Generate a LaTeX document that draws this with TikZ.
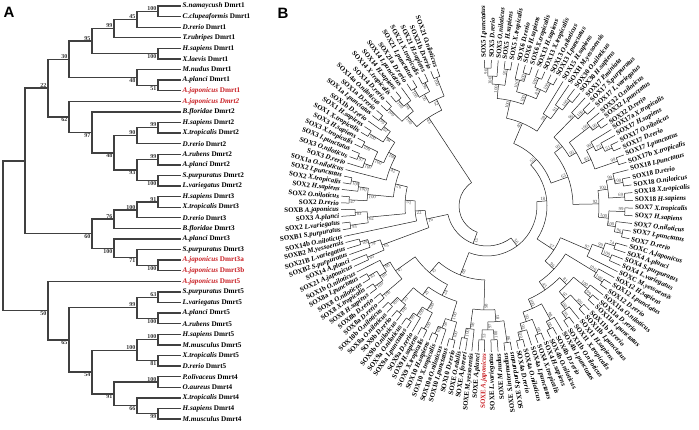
\documentclass[tikz,border=0pt]{standalone}
\usepackage{fontspec}
\setmainfont{Liberation Serif}
\newfontfamily\panelfont{Liberation Sans}
\definecolor{jred}{RGB}{200,30,35}
\tikzset{
  treeA/.style={line width=1.35pt, draw=black!75, line cap=rect},
  treeB/.style={line width=0.5pt, draw=black!88},
  leafA/.style={anchor=west, inner sep=0pt, font=\fontsize{7.2}{8}\selectfont\bfseries},
  bootA/.style={inner sep=0.6pt, font=\fontsize{6}{6.5}\selectfont\bfseries, text=black!80},
  leafB/.style={inner sep=0pt, font=\fontsize{6.9}{7.5}\selectfont\bfseries},
  bootB/.style={inner sep=0.3pt, font=\fontsize{4.7}{4.9}\selectfont, text=black!72},
  panel/.style={font=\panelfont\bfseries\fontsize{15}{15}\selectfont, inner sep=0pt}
}
\newcommand\cladeA[5]{%
  \gdef\trMin{10000}\gdef\trMax{-10000}%
  \foreach \ch in {#3}{%
    \edef\chX{\csname AX\ch\endcsname}\edef\chY{\csname AY\ch\endcsname}%
    \draw[treeA] (#2,\chY) -- (\chX,\chY);%
    \pgfmathsetmacro\trTmp{min(\trMin,\chY)}\xdef\trMin{\trTmp}%
    \pgfmathsetmacro\trTmp{max(\trMax,\chY)}\xdef\trMax{\trTmp}%
  }%
  \draw[treeA] (#2,\trMin) -- (#2,\trMax);%
  \pgfmathsetmacro\trMid{(\trMin+\trMax)/2}%
  \expandafter\xdef\csname AX#1\endcsname{#2}%
  \expandafter\xdef\csname AY#1\endcsname{\trMid}%
  \node[bootA, anchor=#5 east] (bA#1) at (#2-0.8,\trMid) {#4};%
}
\newcommand\cladeB[4]{%
  \gdef\trMin{10000}\gdef\trMax{-10000}%
  \foreach \ch in {#3}{%
    \edef\chA{\csname BA\ch\endcsname}\edef\chR{\csname BR\ch\endcsname}%
    \draw[treeB] (\chA:\chR pt) -- (\chA:#2pt);%
    \pgfmathsetmacro\trTmp{min(\trMin,\chA)}\xdef\trMin{\trTmp}%
    \pgfmathsetmacro\trTmp{max(\trMax,\chA)}\xdef\trMax{\trTmp}%
  }%
  \draw[treeB] (\trMin:#2pt) arc[start angle=\trMin, end angle=\trMax, radius=#2pt];%
  \pgfmathsetmacro\trMid{(\trMin+\trMax)/2}%
  \expandafter\xdef\csname BA#1\endcsname{\trMid}%
  \expandafter\xdef\csname BR#1\endcsname{#2}%
  \pgfmathsetmacro\trN{mod(\trMid,360)}%
  \pgfmathtruncatemacro\trL{(\trN>95)&&(\trN<281)}%
  \pgfmathsetmacro\trRl{#2-1}%
  \ifnum\trL=1
    \pgfmathsetmacro\trRot{\trMid+180}%
    \node[bootB, rotate=\trRot, anchor=north west] (bB#1) at (\trMid:\trRl pt) {#4};%
  \else
    \node[bootB, rotate=\trMid, anchor=south east] (bB#1) at (\trMid:\trRl pt) {#4};%
  \fi
}
\begin{document}
\begin{tikzpicture}[x=1pt,y=-1pt]
\useasboundingbox (0,0) rectangle (699,429);
\node[panel] (pA) at (9,12) {A};
\node[panel] (pB) at (283,13) {B};
% ---------------- Panel A ----------------
\foreach \i/\n/\g/\c in {1/S.namaycush/Dmrt1/black, 2/C.clupeaformis/Dmrt1/black, 3/D.rerio/Dmrt1/black,
  4/T.rubripes/Dmrt1/black, 5/H.sapiens/Dmrt1/black, 6/X.laevis/Dmrt1/black, 7/M.nudus/Dmrt1/black,
  8/A.planci/Dmrt1/black, 9/A.japonicus/Dmrt1/jred, 10/A.japonicus/\textit{Dmrt2}/jred, 11/B.floridae/Dmrt2/black,
  12/H.sapiens/Dmrt2/black, 13/X.tropicalis/Dmrt2/black, 14/D.rerio/Dmrt2/black, 15/A.rubens/Dmrt2/black,
  16/A.planci/Dmrt2/black, 17/S.purpuratus/Dmrt2/black, 18/L.variegatus/Dmrt2/black, 19/H.sapiens/Dmrt3/black,
  20/X.tropicalis/Dmrt3/black, 21/D.rerio/Dmrt3/black, 22/B.floridae/Dmrt3/black, 23/A.planci/Dmrt3/black,
  24/S.purpuratus/Dmrt3/black, 25/A.japonicus/Dmrt3a/jred, 26/A.japonicus/Dmrt3b/jred, 27/A.japonicus/Dmrt5/jred,
  28/S.purpuratus/Dmrt5/black, 29/L.variegatus/Dmrt5/black, 30/A.planci/Dmrt5/black, 31/A.rubens/Dmrt5/black,
  32/H.sapiens/Dmrt5/black, 33/M.musculus/Dmrt5/black, 34/X.tropicalis/Dmrt5/black, 35/D.rerio/Dmrt5/black,
  36/P.olivaceus/Dmrt4/black, 37/O.aureus/Dmrt4/black, 38/X.tropicalis/Dmrt4/black, 39/H.sapiens/Dmrt4/black,
  40/M.musculus/Dmrt4/black}{
  \pgfmathsetmacro\yy{6+(\i-1)*10.59}
  \expandafter\xdef\csname AX\i\endcsname{180}
  \expandafter\xdef\csname AY\i\endcsname{\yy}
  \node[leafA, text=\c] (a\i) at (182.5,\yy) {\textit{\n} \g};
}
\cladeA{p1}{158}{1,2}{100}{south}
\cladeA{p2}{137}{p1,3}{45}{south}
\cladeA{p3}{114}{p2,4}{99}{south}
\cladeA{p4}{158}{5,6}{100}{north}
\cladeA{p5}{92}{p3,p4}{95}{south}
\cladeA{p6}{158}{8,9}{51}{north}
\cladeA{p7}{137}{7,p6}{48}{north}
\cladeA{p8}{69}{p5,p7}{30}{south}
\cladeA{p9}{158}{12,13}{99}{south}
\cladeA{p10}{137}{p9,14}{90}{south}
\cladeA{p11}{158}{15,16}{99}{south}
\cladeA{p12}{158}{17,18}{100}{north}
\cladeA{p13}{137}{p11,p12}{93}{north}
\cladeA{p14}{114}{p10,p13}{48}{north}
\cladeA{p15}{92}{11,p14}{97}{north}
\cladeA{p16}{69}{10,p15}{62}{north}
\cladeA{p17}{48}{p8,p16}{22}{south}
\cladeA{q1}{158}{19,20}{91}{south}
\cladeA{q2}{137}{q1,21}{100}{south}
\cladeA{q3}{114}{q2,22}{76}{south}
\cladeA{q4}{158}{25,26}{100}{north}
\cladeA{q5}{137}{24,q4}{71}{north}
\cladeA{q6}{114}{23,q5}{100}{north}
\cladeA{q7}{92}{q3,q6}{60}{north}
\cladeA{q8}{25}{p17,q7}{}{south}
\cladeA{r1}{158}{28,29}{63}{south}
\cladeA{r2}{158}{30,31}{100}{north}
\cladeA{r3}{137}{r1,r2}{99}{south}
\cladeA{r4}{158}{32,33}{100}{south}
\cladeA{r5}{158}{34,35}{81}{north}
\cladeA{r6}{137}{r4,r5}{100}{south}
\cladeA{r7}{158}{36,37}{100}{south}
\cladeA{r8}{158}{39,40}{99}{north}
\cladeA{r9}{137}{38,r8}{66}{north}
\cladeA{r10}{114}{r7,r9}{91}{north}
\cladeA{r11}{92}{r6,r10}{54}{north}
\cladeA{r12}{69}{r3,r11}{65}{north}
\cladeA{r13}{48}{27,r12}{50}{north}
\cladeA{rootA}{3}{q8,r13}{}{south}
% ---------------- Panel B ----------------
\begin{scope}[shift={(487,206)}]
\foreach \i/\g/\s in {1/SOX21/O.niloticus, 2/SOX21b/D.rerio, 3/SOX21/H.sapiens, 4/SOX21/X.tropicalis,
 5/SOX21/I.punctatus, 6/SOX21a/D.rerio, 7/SOX14/I.punctatus, 8/SOX14/H.sapiens, 9/SOX14/X.tropicalis,
 10/SOX14/D.rerio, 11/SOX14a/O.niloticus, 12/SOX1a/D.rerio, 13/SOX1a/I.punctatus, 14/SOX1b/D.rerio,
 15/SOX1/H.sapiens, 16/SOX1/X.tropicalis, 17/SOX3/H.sapiens, 18/SOX3/X.tropicalis, 19/SOX3/I.punctatus,
 20/SOX3/O.niloticus, 21/SOX3/D.rerio, 22/SOX1a/O.niloticus, 23/SOX2/I.punctatus, 24/SOX2/X.tropicalis,
 25/SOX2/H.sapiens, 26/SOX2/O.niloticus, 27/SOX2/D.rerio, 28/SOXB/A.japonicus, 29/SOX3/A.planci,
 30/SOX2/L.variegatus, 31/SOXB1/S.purpuratus, 32/SOX14b/O.niloticus, 33/SOXB2/M.yessoensis,
 34/SOX21B/L.variegatus, 35/SOXB2/S.purpuratus, 36/SOX14/A.planci, 37/SOX21/A.japonicus,
 38/SOX1b/O.niloticus, 39/SOX8a/I.punctatus, 40/SOX8/O.niloticus, 41/SOX8/X.tropicalis, 42/SOX8/H.sapiens,
 43/SOX8b/D.rerio, 44/SOX8a/D.rerio, 45/SOX10b/O.niloticus, 46/SOX8a/O.niloticus, 47/SOX9b/D.rerio,
 48/SOX9b/O.niloticus, 49/SOX9a/O.niloticus, 50/SOX9a/I.punctatus, 51/SOX9a/D.rerio, 52/SOX9/H.sapiens,
 53/SOX9/X.tropicalis, 54/SOX10/H.sapiens, 55/SOX10/X.tropicalis, 56/SOX10a/O.niloticus,
 57/SOX10/I.punctatus, 58/SOX10/D.rerio, 59/SOXE/O.edulis, 60/SOXE/A.forreri, 61/SOXE/M.yessoensis,
 62/SOXE/A.planci, 63/SOXE/A.japonicus, 64/SOXE/L.variegatus, 65/SOXE/M.nudus, 66/SOXE/S.intermedius,
 67/SOXE/S.purpuratus, 68/SOX4a/D.rerio, 69/SOX4a/O.niloticus, 70/SOX4a/I.punctatus, 71/SOX4/X.tropicalis,
 72/SOX4/H.sapiens, 73/SOX4b/O.niloticus, 74/SOX4b/D.rerio, 75/SOX4b/I.punctatus, 76/SOX11b/O.niloticus,
 77/SOX11/X.tropicalis, 78/SOX11/H.sapiens, 79/SOX11b/I.punctatus, 80/SOX11b/D.rerio, 81/SOX11a/I.punctatus,
 82/SOX11a/D.rerio, 83/SOX11a/O.niloticus, 84/SOX12/D.rerio, 85/SOX12/I.punctatus, 86/SOX12/H.sapiens,
 87/SOXC/M.yessoensis, 88/SOX4/L.variegatus, 89/SOX4/S.purpuratus, 90/SOX4/A.planci, 91/SOXC/A.japonicus,
 92/SOX7/D.rerio, 93/SOX7/I.punctatus, 94/SOX7/O.niloticus, 95/SOX7/H.sapiens, 96/SOX7/X.tropicalis,
 97/SOX18/H.sapiens, 98/SOX18/X.tropicalis, 99/SOX18/O.niloticus, 100/SOX18/D.rerio, 101/SOX18/I.punctatus,
 102/SOX17b/X.tropicalis, 103/SOX17/I.punctatus, 104/SOX17/D.rerio, 105/SOX17/O.niloticus,
 106/SOX17/H.sapiens, 107/SOX17a/X.tropicalis, 108/SOX32/D.rerio, 109/SOX32/I.punctatus,
 110/SOX32/O.niloticus, 111/SOX17/L.variegatus, 112/SOX17/S.purpuratus, 113/SOX17/P.miniata,
 114/SOX30/H.sapiens, 115/SOX30/O.niloticus, 116/SOXH/M.yessoensis, 117/SOX15/H.sapiens,
 118/SOX13/I.punctatus, 119/SOX13/O.niloticus, 120/SOX13/X.tropicalis, 121/SOX13/H.sapiens,
 122/SOX6/X.tropicalis, 123/SOX6/H.sapiens, 124/SOX6/D.rerio, 125/SOX5/X.tropicalis, 126/SOX5/H.sapiens,
 127/SOX5/O.niloticus, 128/SOX5/D.rerio, 129/SOX5/I.punctatus}{
  \pgfmathsetmacro\ang{\i<=32 ? 110+(\i-1)*82/31 : (\i<=63 ? 192+(\i-32)*77/31 : (\i<=91 ? 269+(\i-63)*75/28 : (\i<=104 ? 344+(\i-91)*39.5/13 : 383.5+(\i-104)*67.5/25)))}
  \pgfmathsetmacro\nang{mod(\ang,360)}
  \pgfmathtruncatemacro\isleft{(\nang>95)&&(\nang<281)}
  \expandafter\xdef\csname BA\i\endcsname{\ang}
  \expandafter\xdef\csname BR\i\endcsname{146}
  \ifnum\i=63 \def\lc{jred}\else\def\lc{black}\fi
  \ifnum\isleft=1
    \pgfmathsetmacro\rang{\ang+180}
    \node[leafB, text=\lc, anchor=east, rotate=\rang] (b\i) at (\ang:148pt) {\g\ \textit{\s}};
  \else
    \node[leafB, text=\lc, anchor=west, rotate=\ang] (b\i) at (\ang:148pt) {\g\ \textit{\s}};
  \fi
}
\cladeB{a1}{138}{1,2}{100}
\cladeB{a2}{138}{3,4}{96}
\cladeB{a3}{138}{5,6}{100}
\cladeB{a4}{128}{a2,a3}{56}
\cladeB{a5}{118}{a1,a4}{52}
\cladeB{a6}{138}{8,9}{100}
\cladeB{a7}{130}{7,a6}{94}
\cladeB{a8}{138}{10,11}{100}
\cladeB{a9}{120}{a7,a8}{100}
\cladeB{a10}{106}{a5,a9}{43}
\cladeB{b1}{138}{12,13}{99}
\cladeB{b2}{130}{b1,14}{62}
\cladeB{b3}{138}{15,16}{100}
\cladeB{b4}{122}{b2,b3}{94}
\cladeB{b5}{138}{17,18}{100}
\cladeB{b6}{138}{19,20}{97}
\cladeB{b7}{130}{b6,21}{100}
\cladeB{b8}{122}{b5,b7}{100}
\cladeB{b9}{112}{b4,b8}{100}
\cladeB{b10}{104}{b9,22}{42}
\cladeB{b11}{138}{23,24}{100}
\cladeB{b12}{130}{b11,25}{100}
\cladeB{b13}{138}{26,27}{47}
\cladeB{b14}{120}{b12,b13}{100}
\cladeB{b15}{94}{b10,b14}{26}
\cladeB{b16}{132}{28,29}{83}
\cladeB{b17}{138}{30,31}{93}
\cladeB{b18}{120}{b16,b17}{62}
\cladeB{b19}{82}{b15,b18}{51}
\cladeB{b20}{72}{b19,32}{22}
\cladeB{c1}{132}{33,34}{100}
\cladeB{c2}{124}{c1,35}{79}
\cladeB{c3}{130}{36,37}{63}
\cladeB{c4}{112}{c2,c3}{63}
\cladeB{b21}{62}{b20,c4}{16}
\cladeB{d1}{138}{39,40}{83}
\cladeB{d2}{138}{41,42}{100}
\cladeB{d3}{128}{d1,d2}{98}
\cladeB{d4}{120}{38,d3}{90}
\cladeB{d5}{138}{43,44}{100}
\cladeB{d6}{112}{d4,d5}{47}
\cladeB{d7}{138}{45,46}{100}
\cladeB{d8}{138}{47,48}{100}
\cladeB{d9}{128}{d7,d8}{53}
\cladeB{d10}{138}{49,50}{99}
\cladeB{d11}{130}{d10,51}{100}
\cladeB{d12}{138}{52,53}{100}
\cladeB{d13}{120}{d11,d12}{100}
\cladeB{d14}{110}{d9,d13}{23}
\cladeB{d15}{138}{54,55}{100}
\cladeB{d16}{130}{d15,56}{58}
\cladeB{d17}{138}{57,58}{100}
\cladeB{d18}{120}{d16,d17}{100}
\cladeB{d19}{100}{d14,d18}{24}
\cladeB{d20}{88}{d6,d19}{15}
\cladeB{e1}{134}{59,60}{100}
\cladeB{e2}{124}{e1,61}{98}
\cladeB{e3}{134}{62,63}{53}
\cladeB{e4}{134}{64,65}{100}
\cladeB{e5}{124}{e3,e4}{97}
\cladeB{e6}{138}{66,67}{90}
\cladeB{e7}{116}{e5,e6}{81}
\cladeB{e8}{104}{e2,e7}{98}
\cladeB{E}{74}{d20,e8}{88}
\cladeB{f1}{138}{68,69}{100}
\cladeB{f2}{130}{f1,70}{93}
\cladeB{f3}{138}{71,72}{99}
\cladeB{f4}{122}{f2,f3}{50}
\cladeB{f5}{138}{73,74}{100}
\cladeB{f6}{130}{f5,75}{98}
\cladeB{f7}{112}{f4,f6}{100}
\cladeB{g1}{138}{76,77}{95}
\cladeB{g2}{130}{g1,78}{100}
\cladeB{g3}{138}{79,80}{100}
\cladeB{g4}{122}{g2,g3}{97}
\cladeB{g5}{138}{81,82}{99}
\cladeB{g6}{130}{g5,83}{100}
\cladeB{g7}{112}{g4,g6}{81}
\cladeB{g8}{102}{f7,g7}{45}
\cladeB{h1}{138}{84,85}{100}
\cladeB{h2}{128}{h1,86}{100}
\cladeB{h3}{92}{g8,h2}{96}
\cladeB{i1}{134}{88,89}{100}
\cladeB{i2}{134}{90,91}{74}
\cladeB{i3}{124}{i1,i2}{99}
\cladeB{i4}{112}{87,i3}{97}
\cladeB{C}{80}{h3,i4}{57}
\cladeB{j1}{138}{92,93}{96}
\cladeB{j2}{130}{j1,94}{100}
\cladeB{j3}{138}{95,96}{99}
\cladeB{j4}{122}{j2,j3}{100}
\cladeB{k1}{138}{97,98}{69}
\cladeB{k2}{138}{99,100}{100}
\cladeB{k3}{130}{k2,101}{99}
\cladeB{k4}{122}{k1,k3}{100}
\cladeB{k5}{112}{j4,k4}{92}
\cladeB{l1}{138}{102,103}{99}
\cladeB{l2}{138}{104,105}{51}
\cladeB{l3}{130}{l2,106}{75}
\cladeB{l4}{122}{l3,107}{99}
\cladeB{l5}{114}{l1,l4}{83}
\cladeB{l6}{138}{108,109}{100}
\cladeB{l7}{130}{l6,110}{100}
\cladeB{l8}{104}{l5,l7}{95}
\cladeB{l9}{136}{111,112}{100}
\cladeB{l10}{126}{l9,113}{96}
\cladeB{l11}{96}{l8,l10}{93}
\cladeB{F}{86}{k5,l11}{63}
\cladeB{m1}{134}{114,115}{100}
\cladeB{m2}{122}{m1,116}{91}
\cladeB{m3}{108}{m2,117}{59}
\cladeB{n1}{138}{118,119}{100}
\cladeB{n2}{138}{120,121}{100}
\cladeB{n3}{128}{n1,n2}{89}
\cladeB{n4}{138}{122,123}{100}
\cladeB{n5}{130}{n4,124}{100}
\cladeB{n6}{118}{n3,n5}{100}
\cladeB{o1}{138}{128,129}{96}
\cladeB{o2}{130}{127,o1}{100}
\cladeB{o3}{138}{125,126}{95}
\cladeB{o4}{122}{o3,o2}{100}
\cladeB{D}{108}{n6,o4}{100}
\cladeB{DH}{90}{m3,D}{40}
\cladeB{X1}{68}{F,DH}{55}
\cladeB{X2}{60}{C,X1}{18}
\cladeB{X3}{50}{E,X2}{56}
\cladeB{X4}{40}{b21,X3}{15}
\cladeB{rootB}{28}{a10,X4}{}
\end{scope}
\end{tikzpicture}
\end{document}
